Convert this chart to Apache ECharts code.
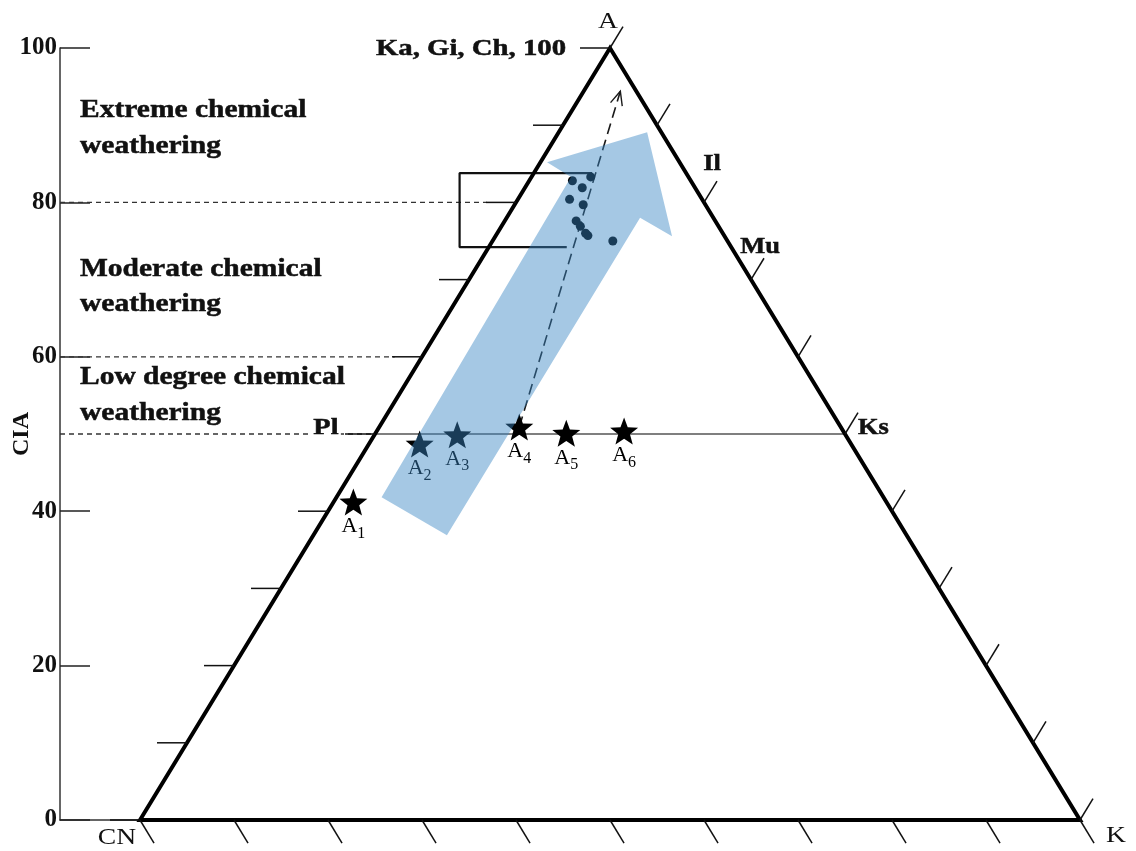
<!DOCTYPE html>
<html>
<head>
<meta charset="utf-8">
<script src="https://cdn.jsdelivr.net/npm/echarts@6/dist/echarts.min.js"></script>
<style>
  html, body { margin: 0; padding: 0; background: #fff; }
  #chart { width: 1136px; height: 851px; }
</style>
</head>
<body>
<div id="chart"></div>
<script>
// ---- Data: A–CN–K ternary (A = CIA, K = K2O share, CN = remainder) ----
const sampleNames = ['A1', 'A2', 'A3', 'A4', 'A5', 'A6'];
const sampleCIA   = [41.2, 48.7, 49.9, 50.9, 50.1, 50.4];
const sampleK     = [2.1, 5.4, 8.8, 14.9, 20.3, 26.3];

// weathering-profile samples (dots)
const profileCIA = [83.3, 82.8, 81.9, 80.4, 79.7, 77.6, 76.9, 76.0, 75.7, 75.0];
const profileK   = [6.3, 4.6, 6.1, 5.5, 7.3, 7.6, 8.4, 9.4, 9.8, 12.8];

// CIA axis labels and the 10 % graduations along each triangle side
const ciaTicks  = [0, 20, 40, 60, 80, 100];
const edgeTicks = [0, 10, 20, 30, 40, 50, 60, 70, 80, 90, 100];

// weathering-zone boundaries (CIA) and where each dashed guide stops (plot x)
const zoneCIA     = [80, 60, 50];
const zoneLineEnd = [36.9, 27.1, 24.7];
const feldsparCIA = 50;

// bracket marking the profile range (plot x, CIA)
const bracketX   = [48.1, 34.0, 34.0, 45.4];
const bracketCIA = [83.8, 83.8, 74.2, 74.2];

// ideal weathering trend end point [CIA, K]
const trendEnd = [94.4, 3.9];

// broad weathering-trend arrow outline, [CIA, K] per vertex
const trendBand = [
  [41.8, 4.8], [36.9, 14.2], [78.0, 14.2], [75.6, 18.8],
  [89.1, 9.4], [85.2, 0.7], [83.3, 4.2]
];

// triangle vertices CN, A, K as [CIA, K]
const vertices = [[0, 0], [100, 0], [0, 100]];

const plotMinX = -8.51;   // x-position of the CIA axis
const serif = '"Liberation Serif", "Times New Roman", serif';

// ternary [CIA, K] -> plot [x, y]
function tern(cia, k) { return [k + cia / 2, cia]; }

const starPath = 'path://M50,0 L62.3,33.1 L97.55,34.55 L69.9,56.6 L79.39,90.45 L50,71.2 L20.61,90.45 L30.1,56.6 L2.45,34.55 L37.7,33.1 Z';

const chart = echarts.init(document.getElementById('chart'));

const series = [];

// dashed weathering-zone guides
zoneCIA.forEach((c, i) => {
  series.push({
    type: 'line', z: 2, silent: true, symbol: 'none',
    data: [[plotMinX, c], [zoneLineEnd[i], c]],
    lineStyle: { color: '#333', width: 1.3, type: [5, 4] }
  });
});

// bracket
series.push({
  type: 'line', z: 2, silent: true, symbol: 'none',
  data: bracketX.map((x, i) => [x, bracketCIA[i]]),
  lineStyle: { color: '#111', width: 2.2 }
});

// feldspar join (Pl – Ks)
series.push({
  type: 'line', z: 3, silent: true, symbol: 'none',
  data: [tern(feldsparCIA, 0), tern(feldsparCIA, 100 - feldsparCIA)],
  lineStyle: { color: '#555', width: 1.6 }
});

// triangle outline
series.push({
  type: 'custom', z: 4, silent: true, clip: false,
  data: [[0, 0]],
  renderItem(params, api) {
    const pts = vertices.map(v => api.coord(tern(v[0], v[1])));
    return {
      type: 'polygon',
      shape: { points: pts },
      style: { fill: 'none', stroke: '#000', lineWidth: 4, lineJoin: 'miter', miterLimit: 10 }
    };
  }
});

// graduation ticks on the three sides
series.push({
  type: 'custom', z: 4, silent: true, clip: false,
  data: edgeTicks.map(v => [v, v]),
  encode: { x: 0, y: 1 },
  renderItem(params, api) {
    const v = api.value(0);
    const pCN = api.coord(tern(0, 0)), pA = api.coord(tern(100, 0)), pK = api.coord(tern(0, 100));
    const unit = (a, b) => { const dx = b[0] - a[0], dy = b[1] - a[1], l = Math.hypot(dx, dy); return [dx / l, dy / l]; };
    const uL = unit(pCN, pA), uR = unit(pA, pK);
    const left = api.coord(tern(v, 0));
    const right = api.coord(tern(v, 100 - v));
    const bottom = api.coord([v, 0]);
    const st = { stroke: '#111', lineWidth: 1.5 };
    return {
      type: 'group',
      children: [
        { type: 'line', shape: { x1: left[0], y1: left[1], x2: left[0] - 30, y2: left[1] }, style: st },
        { type: 'line', shape: { x1: right[0], y1: right[1], x2: right[0] + uL[0] * 25, y2: right[1] + uL[1] * 25 }, style: st },
        { type: 'line', shape: { x1: bottom[0], y1: bottom[1], x2: bottom[0] + uR[0] * 27, y2: bottom[1] + uR[1] * 27 }, style: st }
      ]
    };
  }
});

// dashed trend line from A4 toward the A apex, with open arrowhead
series.push({
  type: 'custom', z: 5, silent: true, clip: false,
  data: [[0, 0]],
  renderItem(params, api) {
    const s = api.coord(tern(sampleCIA[3], sampleK[3]));
    const e = api.coord(tern(trendEnd[0], trendEnd[1]));
    const dx = e[0] - s[0], dy = e[1] - s[1], L = Math.hypot(dx, dy);
    const bx = -dx / L, by = -dy / L;
    const head = 15, ang = 0.42;
    const arm = sg => {
      const c = Math.cos(ang), sn = Math.sin(ang) * sg;
      return [e[0] + head * (bx * c - by * sn), e[1] + head * (bx * sn + by * c)];
    };
    const a1 = arm(1), a2 = arm(-1);
    return {
      type: 'group',
      children: [
        { type: 'line', shape: { x1: s[0], y1: s[1], x2: e[0], y2: e[1] },
          style: { stroke: '#1a1a1a', lineWidth: 1.6, lineDash: [11, 6] } },
        { type: 'polyline', shape: { points: [a1, e, a2] },
          style: { stroke: '#1a1a1a', lineWidth: 1.4, fill: 'none' } }
      ]
    };
  }
});

// profile samples
series.push({
  type: 'scatter', z: 6, silent: true,
  symbol: 'circle', symbolSize: 9,
  itemStyle: { color: '#000', opacity: 1 },
  data: profileCIA.map((c, i) => tern(c, profileK[i]))
});

// parent-material samples A1–A6
series.push({
  type: 'scatter', z: 6, silent: true,
  symbol: starPath, symbolSize: [28, 27],
  itemStyle: { color: '#000', opacity: 1 },
  data: sampleNames.map((n, i) => ({ name: n, value: tern(sampleCIA[i], sampleK[i]) })),
  label: {
    show: true, position: 'bottom', distance: 0,
    formatter: p => '{a|' + p.name.charAt(0) + '}{s|' + p.name.slice(1) + '}',
    rich: {
      a: { fontFamily: serif, fontSize: 22, color: '#000', lineHeight: 24, verticalAlign: 'top' },
      s: { fontFamily: serif, fontSize: 16, color: '#000', lineHeight: 18, verticalAlign: 'top', padding: [10, 0, 0, 0] }
    }
  }
});

// translucent weathering-trend arrow
series.push({
  type: 'custom', z: 10, silent: true, clip: false,
  data: [[0, 0]],
  renderItem(params, api) {
    return {
      type: 'polygon',
      shape: { points: trendBand.map(p => api.coord(tern(p[0], p[1]))) },
      style: { fill: 'rgba(56,132,195,0.45)', stroke: 'none' }
    };
  }
});

function txt(text, x, y, opt) {
  opt = opt || {};
  const heavy = (opt.w || 'bold') === 'bold';
  return {
    type: 'text', x: x, y: y, z: 20, silent: true,
    scaleX: opt.sx || 1.18, scaleY: 1,
    style: {
      text: text,
      font: (opt.w || 'bold') + ' ' + (opt.size || 25) + 'px ' + serif,
      fill: '#111',
      stroke: heavy ? '#111' : null,
      lineWidth: heavy ? 0.5 : 0,
      align: opt.align || 'left',
      verticalAlign: 'middle',
      backgroundColor: opt.bg,
      padding: opt.bg ? [0, 2, 0, 2] : 0
    }
  };
}

chart.setOption({
  animation: false,
  backgroundColor: '#fff',
  grid: { left: 60, right: 56, top: 48, bottom: 31, containLabel: false, outerBoundsMode: 'none' },
  xAxis: {
    type: 'value', min: plotMinX, max: 100,
    axisLine: { show: true, onZero: false, lineStyle: { color: '#333', width: 1.5 } },
    axisTick: { show: false }, axisLabel: { show: false }, splitLine: { show: false }
  },
  yAxis: {
    type: 'value', min: ciaTicks[0], max: ciaTicks[ciaTicks.length - 1], interval: 20,
    name: 'CIA', nameLocation: 'middle', nameGap: 26, nameRotate: 90, nameMoveOverlap: false,
    nameTextStyle: { fontFamily: serif, fontWeight: 'bold', fontSize: 24, color: '#111' },
    axisLine: { show: true, onZero: false, lineStyle: { color: '#333', width: 1.5 } },
    axisTick: { show: true, inside: true, length: 30, lineStyle: { color: '#222', width: 1.5 } },
    axisLabel: { fontFamily: serif, fontWeight: 'bold', fontSize: 25, color: '#111', margin: 3 },
    splitLine: { show: false }
  },
  graphic: [
    txt('Extreme chemical', 80, 111),
    txt('weathering', 80, 147),
    txt('Moderate chemical', 80, 270),
    txt('weathering', 80, 305),
    txt('Low degree chemical', 80, 378),
    txt('weathering', 80, 414),
    txt('Ka, Gi, Ch, 100', 566, 49, { size: 23, sx: 1.25, align: 'right' }),
    txt('A', 608, 22, { w: 'normal', size: 24, sx: 1.15, align: 'center' }),
    txt('Il', 712, 164, { size: 23, sx: 1.15, align: 'center' }),
    txt('Mu', 760, 247, { size: 23, sx: 1.15, align: 'center' }),
    txt('Ks', 858, 428, { size: 23, sx: 1.15 }),
    txt('Pl', 311, 428, { size: 24, sx: 1.18, bg: '#fff' }),
    txt('CN', 117, 838, { w: 'normal', size: 24, sx: 1.15, align: 'center' }),
    txt('K', 1116, 836, { w: 'normal', size: 24, sx: 1.15, align: 'center' })
  ],
  series: series
});
</script>
</body>
</html>
